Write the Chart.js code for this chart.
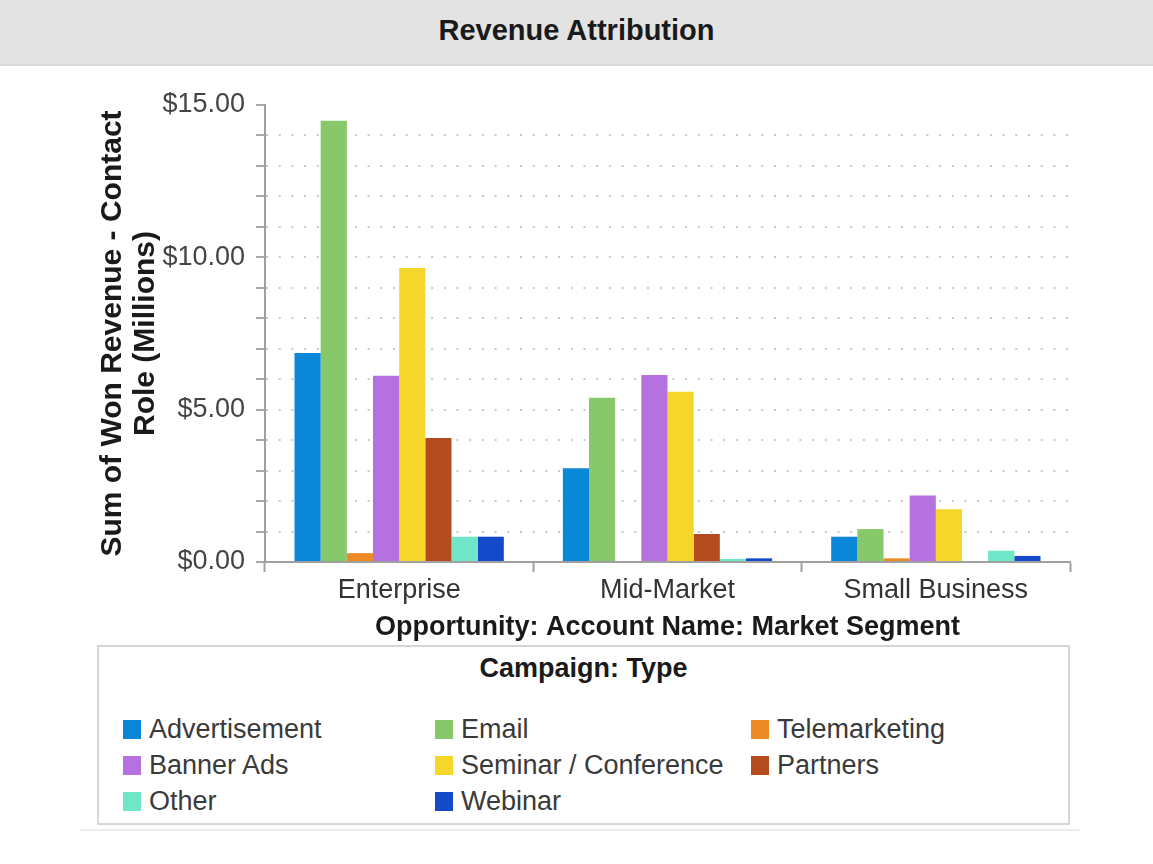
<!DOCTYPE html>
<html>
<head>
<meta charset="utf-8">
<script src="https://cdn.jsdelivr.net/npm/chart.js@4/dist/chart.umd.min.js"></script>
<style>
  body { margin: 0; background: #fff; font-family: "Liberation Sans", Arial, Helvetica, sans-serif; }
  #titleBar { position: absolute; left: 0; top: 0; width: 1153px; height: 64px; background: #e3e3e3;
    border-bottom: 2px solid #d9d9d9; text-align: center; line-height: 60px; font-size: 29px; font-weight: bold; color: #1a1a1a; }
  #chartWrap { position: absolute; left: 0; top: 66px; width: 1153px; height: 579px; }
  #legendBox { position: absolute; left: 97px; top: 645px; width: 969px; height: 176px; border: 2px solid #d6d6d6; }
  #legendTitle { position: absolute; left: 0; top: 6px; width: 100%; text-align: center; font-size: 27px; font-weight: bold; color: #1a1a1a; }
  #legendItems { position: absolute; left: 24px; top: 64px; display: grid; grid-template-columns: 312px 316px 300px; }
  .item { height: 36px; display: flex; align-items: center; font-size: 27px; color: #3a3a3a; }
  .sw { width: 18px; height: 19px; margin-right: 8px; }
  #bottomLine { position: absolute; left: 80px; top: 829px; width: 1000px; height: 2px; background: #ececec; }
</style>
</head>
<body>
<div id="titleBar">Revenue Attribution</div>
<div id="chartWrap"><canvas id="revChart" width="1153" height="579"></canvas></div>
<div id="legendBox">
  <div id="legendTitle">Campaign: Type</div>
  <div id="legendItems"></div>
</div>
<div id="bottomLine"></div>
<script>
// segments on the x axis
const segments = ['Enterprise', 'Mid-Market', 'Small Business'];

// won revenue in millions, one array per campaign type
const advertisement = [6.86, 3.08, 0.83];
const email = [14.48, 5.39, 1.08];
const telemarketing = [0.29, 0, 0.12];
const bannerAds = [6.11, 6.14, 2.18];
const seminar = [9.65, 5.59, 1.73];
const partners = [4.07, 0.92, 0];
const other = [0.83, 0.10, 0.37];
const webinar = [0.83, 0.12, 0.20];

const fontFam = '"Liberation Sans", Arial, Helvetica, sans-serif';

const ctx = document.getElementById('revChart').getContext('2d');
const revChart = new Chart(ctx, {
    type: 'bar',
    data: {
        labels: segments,
        datasets: [
            { label: 'Advertisement', data: advertisement, backgroundColor: '#0b87d8' },
            { label: 'Email', data: email, backgroundColor: '#86c86a' },
            { label: 'Telemarketing', data: telemarketing, backgroundColor: '#ee8a24' },
            { label: 'Banner Ads', data: bannerAds, backgroundColor: '#b571e0' },
            { label: 'Seminar / Conference', data: seminar, backgroundColor: '#f5d72c' },
            { label: 'Partners', data: partners, backgroundColor: '#b54c1f' },
            { label: 'Other', data: other, backgroundColor: '#70e6c8' },
            { label: 'Webinar', data: webinar, backgroundColor: '#1449c9' },
        ],
    },
    options: {
        responsive: false,
        animation: false,
        categoryPercentage: 0.78,
        barPercentage: 1.0,
        layout: { padding: { left: 80, right: 83, top: 39, bottom: 0 } },
        plugins: {
            legend: { display: false },
            tooltip: { enabled: false },
        },
        scales: {
            x: {
                grid: { drawOnChartArea: false, offset: true, tickLength: 10, tickColor: '#a0a0a0', tickWidth: 2 },
                border: { color: '#a0a0a0', width: 2 },
                ticks: { color: '#333', padding: 2, font: { family: fontFam, size: 27 } },
                title: {
                    display: true,
                    text: 'Opportunity: Account Name: Market Segment',
                    color: '#1a1a1a',
                    padding: { top: 0, bottom: 1 },
                    font: { family: fontFam, size: 27, weight: 'bold' },
                },
                afterFit: function (scale) { scale.height = 83; },
            },
            y: {
                min: 0,
                max: 15,
                ticks: {
                    stepSize: 1,
                    autoSkip: false,
                    color: '#444',
                    padding: 11,
                    font: { family: fontFam, size: 27 },
                    callback: function (v) { return v % 5 === 0 ? '$' + v.toFixed(2) : ''; },
                },
                grid: {
                    color: function (c) { return (c.tick && (c.tick.value === 0 || c.tick.value === 15)) ? 'rgba(0,0,0,0)' : '#c8c8c8'; },
                    lineWidth: 2,
                    tickLength: 9,
                    tickColor: '#a8a8a8',
                    tickWidth: 2,
                },
                border: { color: '#a0a0a0', width: 2, dash: [2, 10.7] },
                title: {
                    display: true,
                    text: ['Sum of Won Revenue - Contact', 'Role (Millions)'],
                    color: '#1a1a1a',
                    padding: { top: 16, bottom: 0 },
                    font: { family: fontFam, size: 30, weight: 'bold', lineHeight: 1.1 },
                },
                afterFit: function (scale) { scale.width = 185; },
            },
        },
    },
});

// html legend built from the chart's datasets
const legendItems = document.getElementById('legendItems');
revChart.data.datasets.forEach(ds => {
    const item = document.createElement('div');
    item.className = 'item';
    const sw = document.createElement('span');
    sw.className = 'sw';
    sw.style.background = ds.backgroundColor;
    item.appendChild(sw);
    item.appendChild(document.createTextNode(ds.label));
    legendItems.appendChild(item);
});
</script>
</body>
</html>
